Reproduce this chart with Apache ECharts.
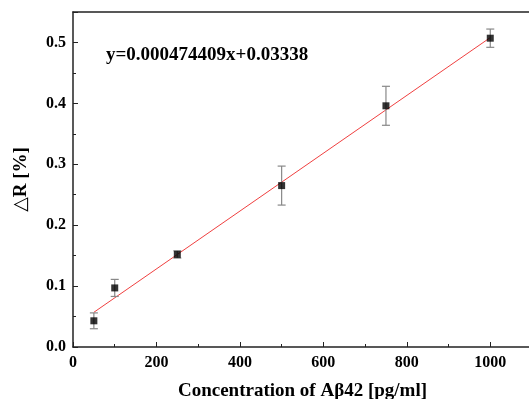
<!DOCTYPE html>
<html>
<head>
<meta charset="utf-8">
<script src="https://cdn.jsdelivr.net/npm/echarts@6/dist/echarts.min.js"></script>
<style>
  html, body { margin: 0; padding: 0; background: #fff; }
  #main { width: 529px; height: 399px; }
</style>
</head>
<body>
<div id="main"></div>
<script>
// values
const concentration = [50, 100, 250, 500, 750, 1000];
const deltaR = [0.043, 0.097, 0.152, 0.265, 0.396, 0.507];
const errorR = [0.013, 0.014, 0.006, 0.032, 0.032, 0.015];
// ends of the fitted line y=0.000474409x+0.03338
const fitX = [50, 1000];
const fitY = [0.057, 0.508];
const xTicks = [0, 200, 400, 600, 800, 1000];
const yTicks = [0.0, 0.1, 0.2, 0.3, 0.4, 0.5];

const chart = echarts.init(document.getElementById('main'));

const serif = '"Liberation Serif", "DejaVu Serif", serif';
const labelStyle = { color: '#000', fontFamily: serif, fontWeight: 'bold', fontSize: 16 };
const nameStyle = { color: '#000', fontFamily: serif, fontWeight: 'bold', fontSize: 19 };

const points = concentration.map((x, i) => [x, deltaR[i]]);
const bars = concentration.map((x, i) => [x, deltaR[i] - errorR[i], deltaR[i] + errorR[i]]);
const fitLine = fitX.map((x, i) => [x, fitY[i]]);

const option = {
  animation: false,
  backgroundColor: '#fff',
  grid: { left: 73, top: 12, width: 459, height: 335, outerBoundsMode: 'none', containLabel: false },
  xAxis: [
    {
      type: 'value',
      min: 0,
      max: 1100,
      interval: 200,
      name: 'Concentration of A\u03b242 [pg/ml]',
      nameLocation: 'middle',
      nameGap: 35,
      nameTextStyle: nameStyle,
      axisLine: { lineStyle: { color: '#222', width: 1.5 } },
      axisTick: { inside: true, length: 5, lineStyle: { color: '#222' } },
      minorTick: { show: true, splitNumber: 2, length: 3, lineStyle: { color: '#222' } },
      axisLabel: Object.assign({ margin: 8, formatter: v => xTicks.includes(v) ? String(v) : '' }, labelStyle),
      splitLine: { show: false }
    },
    {
      type: 'value',
      position: 'top',
      min: 0,
      max: 1100,
      axisLine: { show: true, onZero: false, lineStyle: { color: '#222', width: 1.5 } },
      axisTick: { show: false },
      axisLabel: { show: false },
      splitLine: { show: false }
    }
  ],
  yAxis: {
    type: 'value',
    min: 0,
    max: 0.55,
    interval: 0.1,
    name: '\u25b3R [%]',
    nameLocation: 'middle',
    nameGap: 42,
    nameRotate: 90,
    nameTextStyle: nameStyle,
    axisLine: { show: true, lineStyle: { color: '#222', width: 1.5 } },
    axisTick: { inside: true, length: 5, lineStyle: { color: '#222' } },
    minorTick: { show: true, splitNumber: 2, length: 3, lineStyle: { color: '#222' } },
    axisLabel: Object.assign({ margin: 7, formatter: v => {
      const t = yTicks.find(k => Math.abs(k - v) < 1e-9);
      return t === undefined ? '' : t.toFixed(1);
    } }, labelStyle),
    splitLine: { show: false }
  },
  graphic: [
    {
      type: 'text',
      left: 106,
      top: 46,
      style: { text: 'y=0.000474409x+0.03338', fill: '#000', font: 'bold 19px ' + serif }
    }
  ],
  series: [
    {
      type: 'line',
      data: fitLine,
      symbol: 'none',
      lineStyle: { color: '#f04040', width: 1 },
      z: 2
    },
    {
      type: 'custom',
      data: bars,
      renderItem: (params, api) => {
        const x = api.value(0);
        const lo = api.coord([x, api.value(1)]);
        const hi = api.coord([x, api.value(2)]);
        const cap = 4;
        const style = { stroke: '#888', lineWidth: 1.2 };
        return {
          type: 'group',
          children: [
            { type: 'line', shape: { x1: lo[0], y1: lo[1], x2: hi[0], y2: hi[1] }, style },
            { type: 'line', shape: { x1: lo[0] - cap, y1: lo[1], x2: lo[0] + cap, y2: lo[1] }, style },
            { type: 'line', shape: { x1: hi[0] - cap, y1: hi[1], x2: hi[0] + cap, y2: hi[1] }, style }
          ]
        };
      },
      z: 3
    },
    {
      type: 'scatter',
      data: points,
      symbol: 'rect',
      symbolSize: 7,
      itemStyle: { color: '#000' },
      z: 4
    }
  ]
};

chart.setOption(option);
</script>
</body>
</html>
